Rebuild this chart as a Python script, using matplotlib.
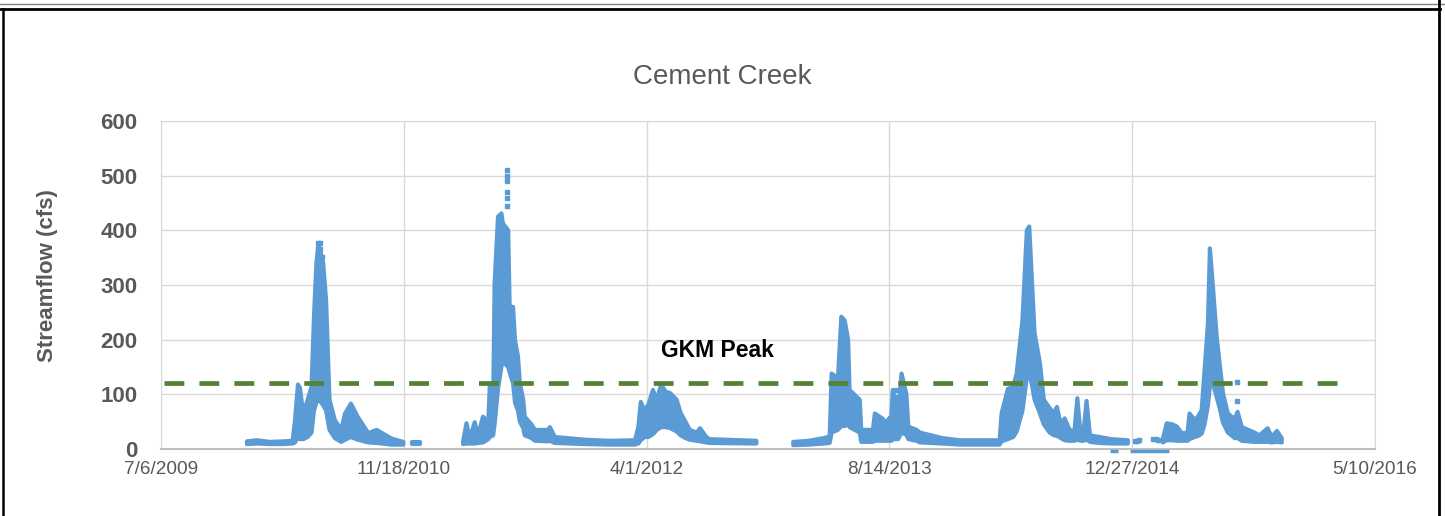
import numpy as np
import pandas as pd
import matplotlib
matplotlib.use("Agg")
import matplotlib.pyplot as plt
from matplotlib.lines import Line2D

# None marks a gap in the record
flow_dates = [
    "2009-12-30", "2010-01-20", "2010-02-15", "2010-03-15", "2010-04-03", "2010-04-08",
    "2010-04-14", "2010-04-18", "2010-04-25", "2010-05-04", "2010-05-12", "2010-05-17",
    "2010-05-22", "2010-05-26", "2010-06-01", "2010-06-05", "2010-06-11", "2010-06-18",
    "2010-06-29", "2010-07-12", "2010-07-20", "2010-08-01", "2010-08-15", "2010-09-06",
    "2010-09-23", "2010-10-24", "2010-11-17", "2010-11-25", "2010-12-04", "2010-12-21",
    "2011-02-01",
    "2011-03-20", "2011-03-27", "2011-04-03", "2011-04-13", "2011-04-20", "2011-04-30",
    "2011-05-11", "2011-05-14", "2011-05-21", "2011-05-24", "2011-05-31", "2011-06-07",
    "2011-06-10", "2011-06-21", "2011-06-24", "2011-07-01", "2011-07-05", "2011-07-11",
    "2011-07-15", "2011-07-22", "2011-07-25", "2011-08-08", "2011-08-15", "2011-09-11",
    "2011-09-15", "2011-09-25", "2011-11-26", "2012-01-15", "2012-03-08", "2012-03-15",
    "2012-03-20", "2012-03-28", "2012-04-05", "2012-04-14", "2012-04-22", "2012-05-01",
    "2012-05-10", "2012-05-20", "2012-06-02", "2012-06-10", "2012-06-20", "2012-06-29",
    "2012-07-13", "2012-07-20", "2012-08-02", "2012-08-09", "2012-11-13",
    "2012-12-15",
    "2013-01-28", "2013-03-01", "2013-04-01", "2013-04-13", "2013-04-17", "2013-04-30",
    "2013-05-07", "2013-05-14", "2013-05-21", "2013-05-24", "2013-06-14", "2013-06-17",
    "2013-07-11", "2013-07-15", "2013-08-01", "2013-08-04", "2013-08-18", "2013-08-21",
    "2013-09-01", "2013-09-08", "2013-09-18", "2013-09-22", "2013-10-09", "2013-10-16",
    "2013-12-01", "2014-01-06", "2014-03-29", "2014-04-02", "2014-04-15", "2014-04-26",
    "2014-05-03", "2014-05-15", "2014-05-24", "2014-05-29", "2014-06-04", "2014-06-09",
    "2014-06-20", "2014-06-28", "2014-07-10", "2014-07-19", "2014-07-25", "2014-08-02",
    "2014-08-10", "2014-08-20", "2014-08-30", "2014-09-05", "2014-09-12", "2014-09-17",
    "2014-09-24", "2014-10-01", "2014-10-20", "2014-11-15", "2014-12-18",
    "2015-01-20",
    "2015-02-28", "2015-03-08", "2015-03-20", "2015-03-29", "2015-04-08", "2015-04-20",
    "2015-04-24", "2015-05-05", "2015-05-12", "2015-05-19", "2015-05-25", "2015-06-01",
    "2015-06-05", "2015-06-11", "2015-06-19", "2015-06-25", "2015-07-02", "2015-07-12",
    "2015-07-26", "2015-08-01", "2015-08-10", "2015-09-05", "2015-09-15", "2015-10-02",
    "2015-10-10", "2015-10-21", "2015-10-31",
]
flow_hi = [
    14, 16, 13, 14, 15, 53,
    118, 112, 65, 90, 114, 242,
    340, 372, 355, 340, 272, 90,
    53, 35, 65, 83, 59, 29,
    35, 19, 13, None, 13, 13,
    None,
    13, 47, 20, 49, 25, 59,
    50, 114, 80, 303, 425, 431,
    413, 400, 260, 260, 199, 170,
    121, 90, 59, 45, 35, 35,
    40, 22, 17, 15, 16, 40,
    86, 70, 82, 108, 90, 118,
    105, 102, 90, 66, 50, 35,
    30, 38, 22, 18, 15,
    None,
    13, 15, 20, 23, 138, 130,
    242, 235, 200, 108, 90, 35,
    35, 65, 55, 47, 60, 108,
    65, 138, 100, 41, 35, 30,
    20, 16, 16, 65, 110, 114,
    138, 236, 400, 407, 300, 212,
    157, 90, 75, 65, 77, 45,
    56, 35, 32, 93, 25, 25,
    88, 25, 22, 18, 16,
    None,
    18, 47, 45, 41, 29, 30,
    65, 53, 60, 71, 144, 230,
    367, 300, 205, 157, 102, 65,
    55, 68, 40, 30, 25, 38,
    22, 33, 20,
]
flow_lo = [
    9, 10, 9, 9, 10, 12,
    22, 18, 18, 22, 30, 70,
    85, 90, 85, 80, 70, 35,
    20, 13, 17, 22, 17, 12,
    11, 8, 8, None, 10, 10,
    None,
    9, 10, 10, 10, 11, 12,
    18, 22, 25, 45, 110, 150,
    160, 150, 140, 120, 85, 70,
    50, 38, 25, 20, 15, 14,
    15, 11, 9, 8, 8, 10,
    16, 22, 22, 27, 35, 40,
    40, 38, 32, 25, 20, 17,
    15, 14, 12, 11, 10,
    None,
    7, 8, 10, 11, 30, 35,
    42, 42, 45, 40, 30, 13,
    13, 15, 15, 15, 15, 18,
    18, 30, 26, 18, 15, 12,
    10, 8, 8, 14, 18, 22,
    32, 70, 130, 140, 115, 90,
    65, 45, 30, 25, 24, 20,
    16, 15, 15, 17, 15, 15,
    17, 13, 11, 10, 10,
    None,
    12, 16, 16, 15, 15, 15,
    18, 22, 24, 28, 45, 80,
    115, 120, 95, 75, 48, 30,
    20, 20, 15, 13, 13, 13,
    12, 13, 12,
]

# loose single readings (peak spikes, sparse winter points)
dot_dates = [
    "2010-05-26", "2010-05-26", "2010-05-30", "2010-05-30", "2010-06-03",
    "2011-06-19", "2011-06-19", "2011-06-19", "2011-06-19", "2011-06-19", "2011-06-19",
    "2013-08-27", "2013-08-27",
    "2015-01-01", "2015-01-05", "2015-01-11", "2015-02-08", "2015-02-13", "2015-02-18",
    "2015-07-30", "2015-07-30",
]
dot_vals = [
    376, 365, 376, 365, 352,
    510, 500, 490, 470, 460, 445,
    108, 96,
    15, 15, 16, 18, 18, 17,
    123, 88,
]

# runs of readings that sit just under zero
below_starts = ["2014-11-11", "2014-12-22"]
below_ends = ["2014-11-28", "2015-03-13"]
below_val = -3

gkm_dates = ["2009-07-12", "2016-02-28"]
gkm_vals = [121, 121]

tick_labels = ["7/6/2009", "11/18/2010", "4/1/2012", "8/14/2013", "12/27/2014", "5/10/2016"]
y_ticks = [0, 100, 200, 300, 400, 500, 600]

blue = "#5B9BD5"
green = "#548235"
gray = "#595959"

plt.rcParams["font.family"] = ["Liberation Sans", "DejaVu Sans"]

fig = plt.figure(figsize=(14.45, 5.16), dpi=100)
ax = fig.add_axes([161 / 1445, 67 / 516, 1214 / 1445, 328 / 516])

x = pd.to_datetime(flow_dates)
hi = np.array(flow_hi, dtype=float)
lo = np.array(flow_lo, dtype=float)
ax.fill_between(x, lo, hi, facecolor=blue, edgecolor=blue, linewidth=3.0, zorder=3)

ax.plot(pd.to_datetime(dot_dates), dot_vals, "s", color=blue, markersize=2.6,
        linestyle="none", zorder=3)
for s, e in zip(below_starts, below_ends):
    ax.plot(pd.to_datetime([s, e]), [below_val, below_val], color=blue, lw=2.5,
            solid_capstyle="butt", clip_on=False, zorder=3)

ax.plot(pd.to_datetime(gkm_dates), gkm_vals, color=green, lw=3.4,
        linestyle=(0, (4.2, 3.2)), zorder=4)
ax.text(pd.Timestamp("2012-08-24"), 181, "GKM Peak", ha="center", va="center",
        fontsize=16.5, fontweight="bold", color="black", zorder=5)

ticks = pd.to_datetime(tick_labels, format="%m/%d/%Y")
ax.set_xlim(ticks[0], ticks[-1])
ax.set_xticks(ticks)
ax.set_xticklabels(tick_labels, color=gray, fontsize=13.7)
ax.set_ylim(0, 600)
ax.set_yticks(y_ticks)
ax.set_yticklabels([str(v) for v in y_ticks], color=gray, fontsize=16, fontweight="bold")
ax.tick_params(axis="both", length=0)
ax.tick_params(axis="y", pad=17)
ax.tick_params(axis="x", pad=9)

ax.grid(True, color="#D9D9D9", lw=1)
ax.set_axisbelow(True)
for side in ["top", "right", "left"]:
    ax.spines[side].set_color("#D9D9D9")
ax.spines["bottom"].set_color("#BFBFBF")
ax.spines["bottom"].set_linewidth(1.5)

ax.set_ylabel("Streamflow (cfs)", fontsize=16, fontweight="bold", color=gray)
ax.yaxis.set_label_coords(-0.085, 0.53)

fig.text(722 / 1445, 1 - 77 / 516, "Cement Creek", ha="center", va="center",
         fontsize=20, color=gray)

# outer frame of the chart box
fig.add_artist(Line2D([0, 1], [1 - 3.5 / 516, 1 - 3.5 / 516], transform=fig.transFigure,
                      color="#7F7F7F", lw=1))
fig.add_artist(Line2D([0, 0.9965], [1 - 9 / 516, 1 - 9 / 516], transform=fig.transFigure,
                      color="black", lw=2))
fig.add_artist(Line2D([2.5 / 1445, 2.5 / 1445], [0, 1 - 9 / 516], transform=fig.transFigure,
                      color="black", lw=1.8))
fig.add_artist(Line2D([1438.5 / 1445, 1438.5 / 1445], [0, 1], transform=fig.transFigure,
                      color="black", lw=2))

fig.savefig("out.png", dpi=100)
